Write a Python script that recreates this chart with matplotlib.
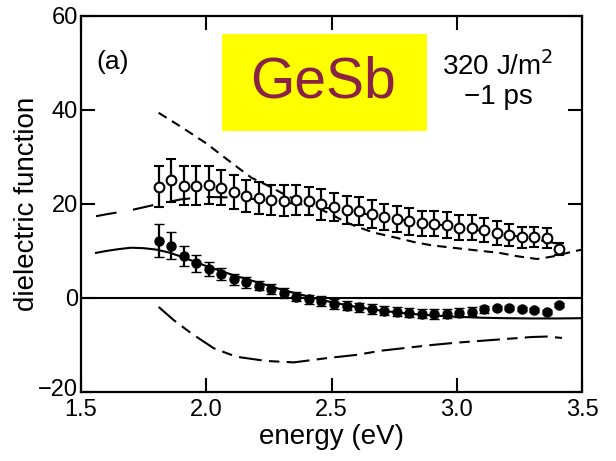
import matplotlib
matplotlib.use("Agg")
import matplotlib.pyplot as plt
from matplotlib.transforms import ScaledTranslation

plt.rcParams['font.family'] = ['Liberation Sans', 'DejaVu Sans']

# measured photon energies (eV)
energy = [1.81, 1.86, 1.91, 1.96, 2.01, 2.06, 2.11, 2.16, 2.21, 2.26, 2.31,
          2.36, 2.41, 2.46, 2.51, 2.56, 2.61, 2.66, 2.71, 2.76, 2.81, 2.86,
          2.91, 2.96, 3.01, 3.06, 3.11, 3.16, 3.21, 3.26, 3.31, 3.36, 3.41]

# imaginary part (open circles)
eps2 = [23.7, 25.0, 23.9, 23.9, 24.0, 23.5, 22.5, 21.6, 21.2, 20.9, 20.7,
        20.9, 20.7, 19.9, 19.3, 18.8, 18.5, 17.9, 17.3, 16.8, 16.3, 15.9,
        15.8, 15.5, 15.0, 15.0, 14.5, 13.8, 13.4, 12.9, 13.0, 12.7, 10.4]
eps2_err = [4.4, 4.5, 4.1, 4.1, 4.0, 3.7, 3.6, 3.4, 3.4, 3.2, 3.3,
            3.2, 3.0, 3.2, 3.0, 3.0, 3.0, 2.9, 2.8, 2.8, 2.8, 2.7,
            2.7, 2.7, 2.6, 2.6, 2.5, 2.5, 2.4, 2.3, 2.1, 2.1, 1.2]

# real part (filled circles)
eps1 = [12.2, 11.1, 8.9, 7.4, 6.1, 5.1, 4.0, 3.3, 2.6, 1.9, 1.1,
        0.3, -0.3, -0.6, -1.3, -1.6, -2.0, -2.3, -2.7, -2.9, -3.1, -3.3,
        -3.4, -3.3, -3.1, -2.9, -2.4, -2.2, -2.2, -2.4, -2.6, -2.9, -1.5]
eps1_err = [3.5, 2.9, 2.1, 1.8, 1.5, 1.3, 1.2, 1.1, 1.0, 1.0, 1.0,
            1.0, 1.0, 1.0, 1.0, 1.0, 1.0, 1.0, 1.0, 1.0, 1.0, 1.0,
            1.0, 1.0, 1.0, 1.0, 0.8, 0.4, 0.4, 0.4, 0.4, 0.4, 0.4]

# reference phase curves
cry_e2_x = [1.81, 1.9, 2.0, 2.1, 2.18, 2.25, 2.32, 2.4, 2.45, 2.5, 2.55, 2.6,
            2.67, 2.76, 2.83, 2.9, 3.0, 3.1, 3.17, 3.24, 3.32, 3.38, 3.45, 3.5]
cry_e2_y = [39.4, 36.4, 32.9, 28.8, 25.6, 23.8, 21.8, 20.0, 19.0, 17.8, 16.3, 15.2,
            13.9, 12.8, 11.9, 11.2, 10.6, 10.0, 9.6, 8.9, 8.3, 8.8, 9.7, 10.3]

amo_e2_x = [1.56, 1.6, 1.7, 1.8, 1.9, 2.0, 2.1, 2.2, 2.3, 2.4, 2.5, 2.6,
            2.7, 2.8, 2.9, 3.0, 3.1, 3.2, 3.3, 3.4]
amo_e2_y = [17.4, 17.8, 18.7, 19.9, 21.0, 21.5, 21.4, 21.0, 20.4, 19.8, 19.0, 18.2,
            17.3, 16.5, 15.8, 15.1, 14.3, 13.5, 12.6, 11.6]

amo_e1_x = [1.56, 1.6, 1.65, 1.7, 1.75, 1.8, 1.85, 1.9, 1.95, 2.0, 2.1, 2.2, 2.3,
            2.4, 2.5, 2.6, 2.7, 2.8, 2.9, 3.0, 3.1, 3.2, 3.3, 3.4, 3.5]
amo_e1_y = [9.6, 10.0, 10.4, 10.7, 10.6, 10.3, 9.7, 8.8, 7.8, 6.8, 5.0, 3.4, 1.8,
            0.4, -0.9, -1.9, -2.7, -3.3, -3.7, -4.0, -4.2, -4.3, -4.35, -4.35, -4.3]

cry_e1_x = [1.81, 1.87, 1.94, 2.03, 2.12, 2.24, 2.35, 2.48, 2.6, 2.7, 2.8, 2.9,
            3.0, 3.1, 3.2, 3.3, 3.36, 3.42]
cry_e1_y = [-1.9, -4.7, -7.5, -10.7, -12.5, -13.4, -13.7, -12.8, -12.1, -11.2, -10.6, -10.0,
            -9.5, -9.1, -8.7, -8.3, -8.2, -8.5]

x_ticks = [1.5, 2.0, 2.5, 3.0, 3.5]
y_ticks = [-20, 0, 20, 40, 60]

fig = plt.figure(figsize=(6.16, 4.61), dpi=100)
ax = fig.add_axes([81 / 616, 1 - 392 / 461, (582 - 81) / 616, (392 - 16) / 461])

lw = 1.5
ax.axhline(0, color='black', lw=lw, zorder=1)
ax.plot(cry_e2_x, cry_e2_y, color='black', lw=lw, ls=(0, (4.5, 3.0)), zorder=2)
ax.plot(amo_e2_x, amo_e2_y, color='black', lw=lw, ls=(0, (10, 8)), zorder=2)
ax.plot(amo_e1_x, amo_e1_y, color='black', lw=lw, ls='-', zorder=2)
ax.plot(cry_e1_x, cry_e1_y, color='black', lw=lw, ls=(0, (11, 3.5, 5, 3.5)), zorder=2)

ax.errorbar(energy, eps2, yerr=eps2_err, fmt='o', ms=7, mfc='white', mec='black',
            mew=1.5, ecolor='black', elinewidth=1.6, capsize=3.5, capthick=1.6, zorder=3)
ax.errorbar(energy, eps1, yerr=eps1_err, fmt='o', ms=6.5, mfc='black', mec='black',
            mew=1.0, ecolor='black', elinewidth=1.6, capsize=3.5, capthick=1.6, zorder=3)

ax.set_xlim(1.5, 3.5)
ax.set_ylim(-20, 60)
ax.set_xticks(x_ticks)
ax.set_yticks(y_ticks)
ax.set_xticklabels(['1.5', '2.0', '2.5', '3.0', '3.5'])
ax.set_yticklabels(['\u221220', '0', '20', '40', '60'])
ax.tick_params(direction='in', length=10, width=1.5, labelsize=17,
               top=True, right=True)
ax.tick_params(axis='x', pad=5)
ax.tick_params(axis='y', pad=2)
for s in ax.spines.values():
    s.set_linewidth(1.6)

# lift the lowest y label so it clears the first x label
low_label = ax.get_yticklabels()[0]
low_label.set_transform(low_label.get_transform() +
                        ScaledTranslation(0, 3 / 72, fig.dpi_scale_trans))

ax.set_xlabel('energy (eV)', fontsize=20, labelpad=2)
ax.set_ylabel('dielectric function', fontsize=20, labelpad=-1)

fig.text(113 / 616, 1 - 62 / 461, '(a)', fontsize=19, ha='center', va='center')

# material label on a yellow box
fig.patches.append(plt.Rectangle((222 / 616, 1 - 131 / 461), 205 / 616, 97 / 461,
                                 transform=fig.transFigure, facecolor='#ffff00',
                                 edgecolor='none', zorder=5))
fig.text(323 / 616, 1 - 82 / 461, 'GeSb', fontsize=41, color='#8a2246',
         ha='center', va='center', zorder=6)

fig.text(498 / 616, 1 - 66 / 461, '320 J/m$^2$', fontsize=20, ha='center', va='center')
fig.text(498 / 616, 1 - 97 / 461, '\u22121 ps', fontsize=20, ha='center', va='center')

fig.savefig('out.png', dpi=100)
